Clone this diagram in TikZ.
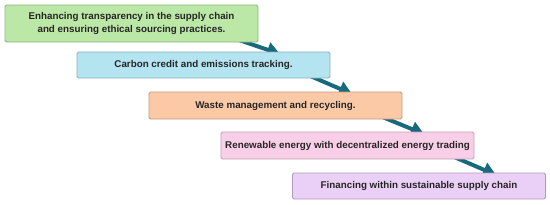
\documentclass[tikz,border=0pt]{standalone}
\usepackage{fontspec}
\setmainfont{Liberation Sans}
\usetikzlibrary{arrows.meta,calc}
\definecolor{arrowc}{HTML}{17697E}
\definecolor{gfill}{HTML}{BBE8A6}\definecolor{gdraw}{HTML}{8FB27E}
\definecolor{bfill}{HTML}{B3E4F0}\definecolor{bdraw}{HTML}{86B0BC}
\definecolor{ofill}{HTML}{FCC9A6}\definecolor{odraw}{HTML}{C49A7C}
\definecolor{pfill}{HTML}{F9CFE7}\definecolor{pdraw}{HTML}{C39EB3}
\definecolor{vfill}{HTML}{EACFF6}\definecolor{vdraw}{HTML}{B09BBC}
\tikzset{
  stepbox/.style={draw, rounded corners=1.5pt, line width=0.8pt, minimum width=253pt, inner sep=0pt, align=center, font=\fontsize{9.8}{12.5}\selectfont\bfseries, text=black!85},
  flowarrow/.style={draw=arrowc, line width=4pt, -{Triangle[length=13pt,width=15pt]}}
}
\begin{document}
\begin{tikzpicture}[x=1pt,y=-1pt]
\useasboundingbox (0,0) rectangle (550,204);
\coordinate (a1s) at (236,39);
\coordinate (a1e) at (280,54);
\coordinate (a2s) at (308,75);
\coordinate (a2e) at (352,94);
\coordinate (a3s) at (380,116);
\coordinate (a3e) at (424,134);
\coordinate (a4s) at (452,156);
\coordinate (a4e) at (496,175);
\draw[flowarrow] (a1s) -- (a1e);
\draw[flowarrow] (a2s) -- (a2e);
\draw[flowarrow] (a3s) -- (a3e);
\draw[flowarrow] (a4s) -- (a4e);
\node[stepbox, fill=gfill, draw=gdraw, minimum height=37pt] (b1) at (131.5,23.5) {Enhancing transparency in the supply chain\\and ensuring ethical sourcing practices.};
\node[stepbox, fill=bfill, draw=bdraw, minimum height=26pt] (b2) at (203.5,65) {Carbon credit and emissions tracking.};
\node[stepbox, fill=ofill, draw=odraw, minimum height=27pt] (b3) at (275.5,105.5) {Waste management and recycling.};
\node[stepbox, fill=pfill, draw=pdraw, minimum height=27pt] (b4) at (347.5,145.5) {Renewable energy with decentralized energy trading};
\node[stepbox, fill=vfill, draw=vdraw, minimum height=26pt] (b5) at (419,186) {Financing within sustainable supply chain};
\end{tikzpicture}
\end{document}
